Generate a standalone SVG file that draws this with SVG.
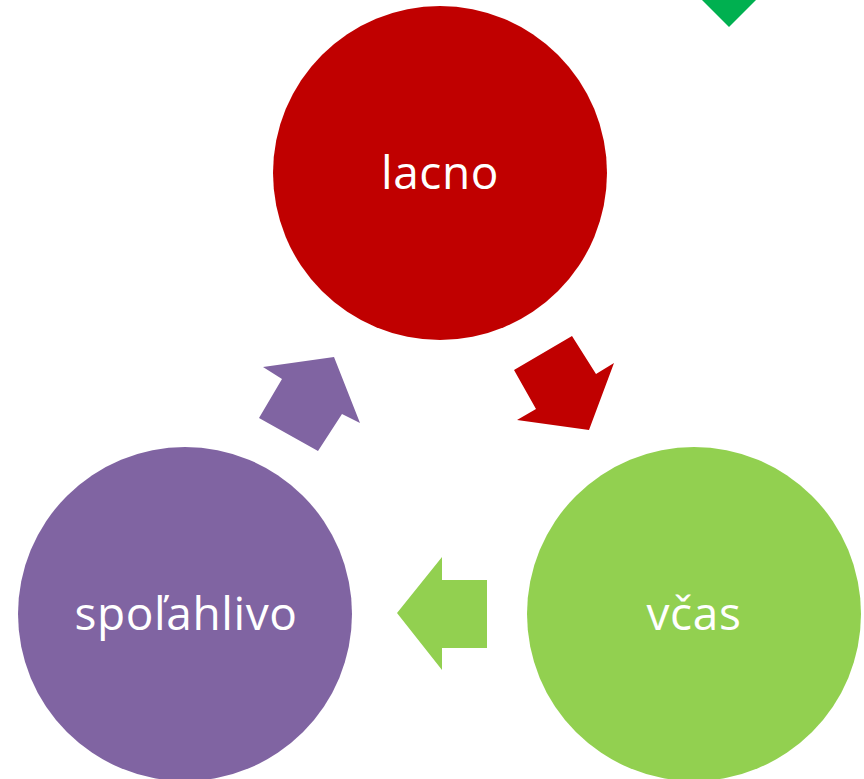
<svg xmlns="http://www.w3.org/2000/svg" width="864" height="779" viewBox="0 0 864 779">
<style>
.lbl{font-family:"Open Sans","DejaVu Sans",sans-serif;font-size:46px;letter-spacing:0.6px;fill:#FFFFFF;text-anchor:middle}
</style>
<rect width="864" height="779" fill="#FFFFFF"/>
<polygon points="702,0 756,0 729,27" fill="#00B050"/>
<g id="connectors">
<polygon id="arrow-red" points="514,370 572,336 596,374 614,363 589,430 517,420 536,409" fill="#C00000"/>
<polygon id="arrow-green" points="487,580 442,580 442,557 397,613 442,670 442,648 487,648" fill="#92D050"/>
<polygon id="arrow-purple" points="263,367 334,357 360,423 342,414 318,451 259,418 282,379" fill="#8064A2"/>
</g>
<g id="node-lacno">
<circle cx="440" cy="173" r="167" fill="#C00000"/>
<text class="lbl" x="440" y="189">lacno</text>
</g>
<g id="node-vcas">
<circle cx="694" cy="614" r="167" fill="#92D050"/>
<text class="lbl" x="694" y="630">včas</text>
</g>
<g id="node-spolahlivo">
<circle cx="185" cy="614" r="167" fill="#8064A2"/>
<text class="lbl" x="186" y="630">spoľahlivo</text>
</g>
</svg>
